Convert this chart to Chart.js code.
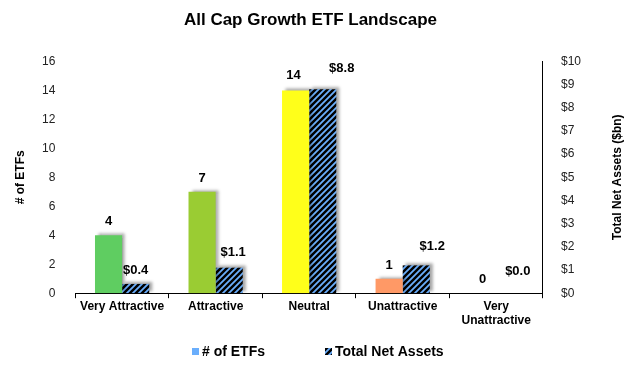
<!DOCTYPE html>
<html>
<head>
<meta charset="utf-8">
<script src="https://cdn.jsdelivr.net/npm/chart.js@4.4.0/dist/chart.umd.min.js"></script>
<style>
  html, body { margin: 0; padding: 0; background: #fff; }
  #wrap { width: 630px; height: 367px; }
</style>
</head>
<body>
<div id="wrap"><canvas id="chart" width="630" height="367"></canvas></div>
<script>
var categories = ['Very Attractive', 'Attractive', 'Neutral', 'Unattractive', ['Very', 'Unattractive']];
var etfCounts = [4, 7, 14, 1, 0];
var netAssets = [0.4, 1.1, 8.8, 1.2, 0.0];
var barColors = ['#5fcd61', '#9acc33', '#ffff1a', '#ff9966', '#ff3333'];
var leftTicks = [0, 2, 4, 6, 8, 10, 12, 14, 16];
var rightTicks = [0, 1, 2, 3, 4, 5, 6, 7, 8, 9, 10];

var FONT = 'Arial, "Liberation Sans", sans-serif';

function makeHatch() {
    var c = document.createElement('canvas');
    c.width = 6; c.height = 6;
    var g = c.getContext('2d');
    g.fillStyle = '#000';
    g.fillRect(0, 0, 6, 6);
    g.strokeStyle = '#6aaefc';
    g.lineWidth = 1.8;
    g.beginPath();
    g.moveTo(-3, 3); g.lineTo(3, -3);
    g.moveTo(0, 6); g.lineTo(6, 0);
    g.moveTo(3, 9); g.lineTo(9, 3);
    g.stroke();
    return g.createPattern(c, 'repeat');
}
var hatch = makeHatch();

// soft grey shadow behind the bars
var shadowPlugin = {
    id: 'shadow',
    beforeDatasetsDraw: function(chart) {
        var ctx = chart.ctx;
        ctx.save();
        ctx.shadowColor = 'rgba(0,0,0,0.35)';
        ctx.shadowBlur = 3;
        ctx.shadowOffsetX = 3;
        ctx.shadowOffsetY = -2;
    },
    afterDatasetsDraw: function(chart) {
        chart.ctx.restore();
    }
};

// value labels above bars (asset labels sit a bit right like in excel)
var valueLabels = {
    id: 'valueLabels',
    afterDatasetsDraw: function(chart) {
        var ctx = chart.ctx;
        var nudgeX = [[0, 0, -2, 0, 0], [0, 4, 19, 16, 8]];
        var nudgeY = [[0, 0, 1, 0, 0], [0, 2, 7, 5, 8]];
        ctx.save();
        ctx.font = 'bold 13px ' + FONT;
        ctx.fillStyle = '#000';
        ctx.textAlign = 'center';
        ctx.textBaseline = 'bottom';
        chart.data.datasets.forEach(function(ds, di) {
            var meta = chart.getDatasetMeta(di);
            meta.data.forEach(function(bar, i) {
                var txt = di == 0 ? String(ds.data[i]) : '$' + ds.data[i].toFixed(1);
                ctx.fillText(txt, bar.x + nudgeX[di][i], bar.y - 7 - nudgeY[di][i]);
            });
        });
        ctx.restore();
    }
};

// axis titles (both read bottom to top) and the legend underneath
var extras = {
    id: 'extras',
    afterDraw: function(chart) {
        var ctx = chart.ctx;
        var area = chart.chartArea;
        var midY = (area.top + area.bottom) / 2;
        ctx.save();
        ctx.fillStyle = '#000';
        ctx.font = 'bold 12px ' + FONT;
        ctx.textAlign = 'center';
        ctx.textBaseline = 'middle';

        ctx.save();
        ctx.translate(21, midY);
        ctx.rotate(-Math.PI / 2);
        ctx.fillText('# of ETFs', 0, 0);
        ctx.restore();

        ctx.save();
        ctx.translate(618, midY);
        ctx.rotate(-Math.PI / 2);
        ctx.fillText('Total Net Assets ($bn)', 0, 0);
        ctx.restore();

        // legend
        var ly = 352;
        ctx.font = 'bold 14px ' + FONT;
        ctx.textAlign = 'left';
        ctx.fillStyle = '#6aaefc';
        ctx.fillRect(192, ly - 4, 7, 7);
        ctx.fillStyle = '#000';
        ctx.fillText('# of ETFs', 202, ly);
        ctx.fillStyle = hatch;
        ctx.fillRect(325, ly - 4, 7, 7);
        ctx.fillStyle = '#000';
        ctx.fillText('Total Net Assets', 335, ly);
        ctx.restore();
    }
};

var ctx = document.getElementById('chart').getContext('2d');
var chart = new Chart(ctx, {
    type: 'bar',
    data: {
        labels: categories,
        datasets: [{
            label: '# of ETFs',
            data: etfCounts,
            backgroundColor: barColors,
            yAxisID: 'y',
            barPercentage: 1,
            categoryPercentage: 0.58
        }, {
            label: 'Total Net Assets',
            data: netAssets,
            backgroundColor: hatch,
            yAxisID: 'y1',
            barPercentage: 1,
            categoryPercentage: 0.58
        }]
    },
    options: {
        responsive: false,
        animation: false,
        layout: { padding: { left: 30, right: 39, top: 0, bottom: 38 } },
        plugins: {
            title: {
                display: true,
                text: 'All Cap Growth ETF Landscape',
                color: '#000',
                font: { family: FONT, size: 17, weight: 'bold' },
                padding: { top: 10, bottom: 31 }
            },
            legend: { display: false },
            tooltip: { enabled: false }
        },
        scales: {
            x: {
                grid: { display: true, offset: true, drawOnChartArea: false, tickLength: 5, color: '#000' },
                border: { display: true, color: '#000', width: 1 },
                ticks: {
                    color: '#000',
                    maxRotation: 0,
                    autoSkip: false,
                    font: { family: FONT, size: 12, weight: 'bold' },
                    padding: 1
                }
            },
            y: {
                position: 'left',
                min: 0, max: 16,
                afterBuildTicks: function(axis) {
                    axis.ticks = leftTicks.map(function(v) { return { value: v }; });
                },
                grid: { display: false },
                border: { display: false },
                ticks: {
                    color: '#222',
                    font: { family: FONT, size: 12 },
                    padding: 12
                }
            },
            y1: {
                position: 'right',
                min: 0, max: 10,
                afterBuildTicks: function(axis) {
                    axis.ticks = rightTicks.map(function(v) { return { value: v }; });
                },
                grid: { display: false },
                border: { display: true, color: '#000', width: 1 },
                ticks: {
                    color: '#222',
                    font: { family: FONT, size: 12 },
                    padding: 10,
                    callback: function(v) { return '$' + v; }
                }
            }
        }
    },
    plugins: [shadowPlugin, valueLabels, extras]
});
</script>
</body>
</html>
